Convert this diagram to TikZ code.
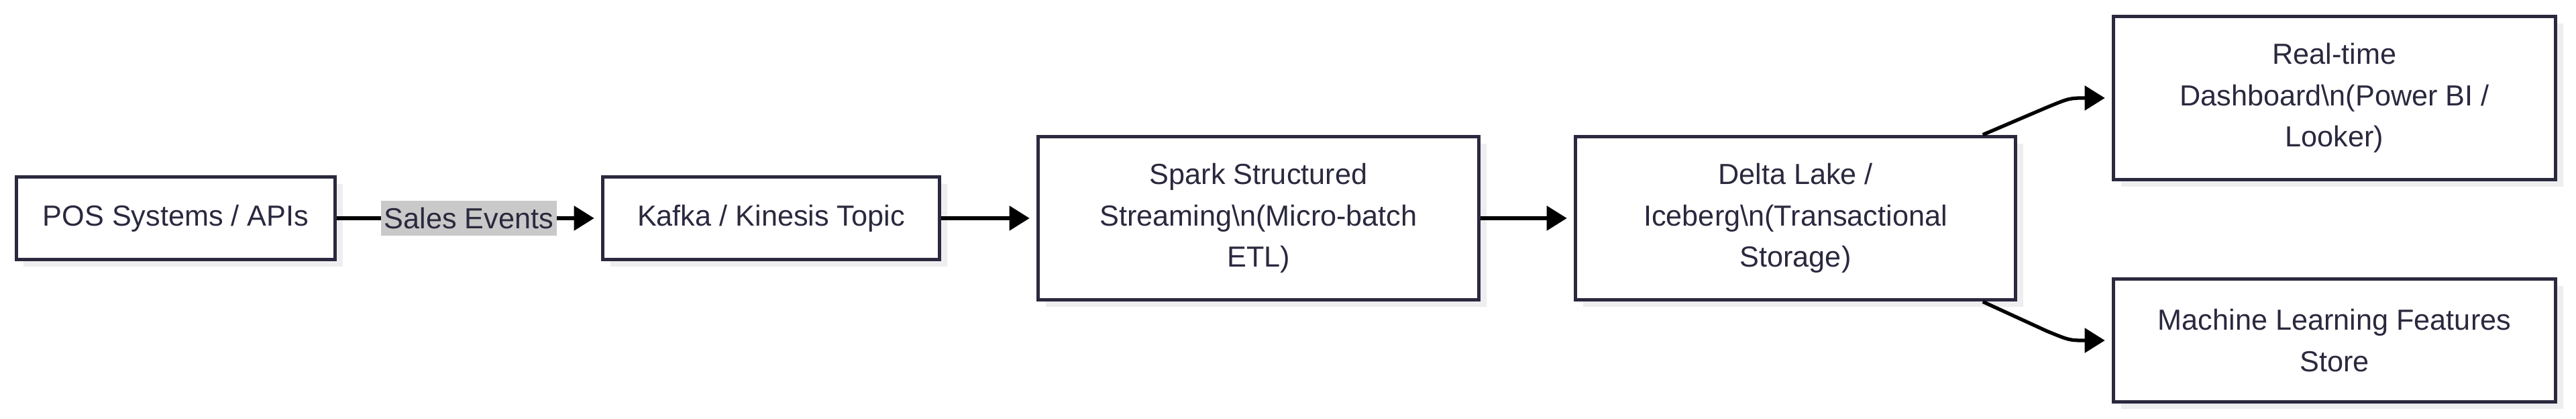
\documentclass[tikz,border=0pt]{standalone}
\usepackage{fontspec}
\setmainfont{Liberation Sans}
\usetikzlibrary{arrows.meta,shadows}
\definecolor{encre}{RGB}{42,41,62}
\definecolor{ombre}{RGB}{238,238,240}
\definecolor{gristag}{RGB}{201,201,201}
\begin{document}
\begin{tikzpicture}
\tikzset{boite/.style={draw=encre, line width=1.6pt, fill=white, text=encre, align=center, inner sep=0pt, font=\fontsize{12.3}{17.5}\selectfont, drop shadow={fill=ombre, opacity=1, shadow xshift=0.11cm, shadow yshift=-0.11cm}},
fleche/.style={draw=black, line width=1.5pt, -{Triangle[length=0.3cm,width=0.36cm]}, shorten >=0.1cm},
etiq/.style={fill=gristag, text=encre, inner xsep=1.5pt, inner ysep=3pt, font=\fontsize{12.3}{14}\selectfont}}
\useasboundingbox (0,0) rectangle (38.4,6.24);
\node[boite, minimum width=4.75cm, minimum height=1.23cm] (POS) at (2.62,2.99) {POS Systems / APIs};
\node[boite, minimum width=5.02cm, minimum height=1.23cm] (Kafka) at (11.495,2.99) {Kafka / Kinesis Topic};
\node[boite, minimum width=6.57cm, minimum height=2.43cm] (Spark) at (18.76,2.99) {Spark Structured\\Streaming\textbackslash n(Micro-batch\\ETL)};
\node[boite, minimum width=6.56cm, minimum height=2.43cm] (Delta) at (26.765,2.99) {Delta Lake /\\Iceberg\textbackslash n(Transactional\\Storage)};
\node[boite, minimum width=6.59cm, minimum height=2.43cm] (Dash) at (34.80,4.78) {Real-time\\Dashboard\textbackslash n(Power BI /\\Looker)};
\node[boite, minimum width=6.59cm, minimum height=1.83cm] (ML) at (34.80,1.17) {Machine Learning Features\\Store};
\draw[fleche] (POS) -- node[etiq] {Sales Events} (Kafka);
\draw[fleche] (Kafka) -- (Spark);
\draw[fleche] (Spark) -- (Delta);
\draw[fleche] (Delta.24) -- (30.51,4.64) .. controls (30.85,4.78) .. (Dash.west);
\draw[fleche] (Delta.-24) -- (30.51,1.31) .. controls (30.85,1.17) .. (ML.west);
\end{tikzpicture}
\end{document}
